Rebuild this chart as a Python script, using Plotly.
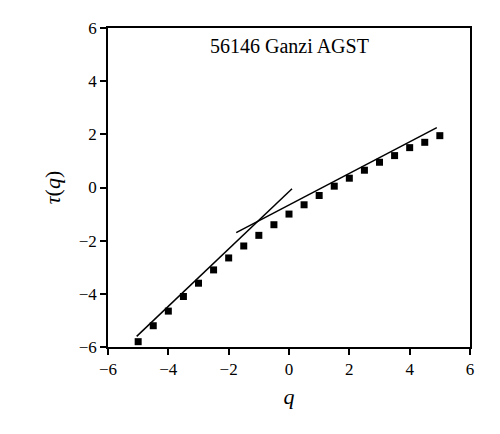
import plotly.graph_objects as go

q = [-5, -4.5, -4, -3.5, -3, -2.5, -2, -1.5, -1, -0.5, 0,
     0.5, 1, 1.5, 2, 2.5, 3, 3.5, 4, 4.5, 5]
tau = [-5.8, -5.2, -4.65, -4.1, -3.6, -3.1, -2.65, -2.2, -1.8, -1.4, -1.0,
       -0.65, -0.3, 0.05, 0.35, 0.65, 0.95, 1.2, 1.5, 1.7, 1.95]

# fitted lines (endpoints)
fit1_x = [-5.05, 0.1]
fit1_y = [-5.6, -0.05]
fit2_x = [-1.75, 4.9]
fit2_y = [-1.7, 2.25]

fig = go.Figure()
fig.add_trace(go.Scatter(x=q, y=tau, mode='markers',
                         marker=dict(symbol='square', size=7, color='black')))
fig.add_trace(go.Scatter(x=fit1_x, y=fit1_y, mode='lines', line=dict(color='black', width=1.5)))
fig.add_trace(go.Scatter(x=fit2_x, y=fit2_y, mode='lines', line=dict(color='black', width=1.5)))

axis = dict(showgrid=False, zeroline=False, showline=True, linecolor='black', linewidth=1.5,
            mirror=True, ticks='outside', ticklen=6, tickwidth=1.5, tickcolor='black',
            range=[-6, 6], dtick=2, tickfont=dict(size=17, color='black'))

fig.update_layout(
    width=500, height=434, showlegend=False,
    plot_bgcolor='white', paper_bgcolor='white',
    font=dict(family='Liberation Serif, Times New Roman, serif', color='black'),
    margin=dict(l=100, r=38, t=20, b=95),
    xaxis=dict(axis, title=dict(text='<i>q</i>', font=dict(size=22), standoff=10)),
    yaxis=dict(axis, title=dict(text='<i>τ</i>(<i>q</i>)', font=dict(size=22), standoff=12)),
    annotations=[dict(text='56146 Ganzi AGST', x=0.5, y=0.985, xref='paper', yref='paper',
                      xanchor='center', yanchor='top', showarrow=False, font=dict(size=20))],
)

fig.write_html("out.html")
